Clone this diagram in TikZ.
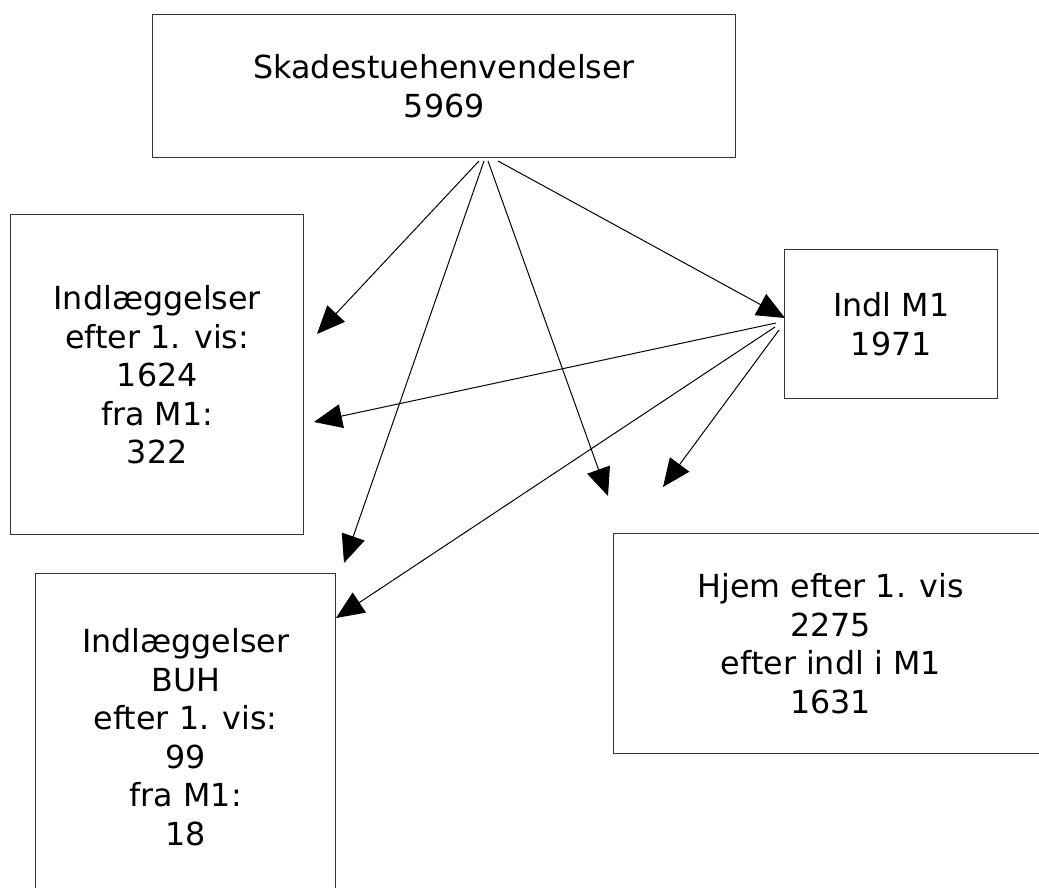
\documentclass[tikz,border=0pt]{standalone}
\usepackage{fontspec}
\setmainfont{DejaVu Sans}
\usetikzlibrary{arrows.meta}
\begin{document}
\begin{tikzpicture}[x=0.75pt,y=-0.75pt,
  box/.style={draw=black!80, line width=1.1pt, inner sep=0pt, align=center,
    font=\fontsize{23.8pt}{28.9pt}\selectfont, anchor=north west},
  conn/.style={line width=0.75pt, -{Triangle[length=21pt,width=18pt]}}]
\useasboundingbox (0,0) rectangle (1039,888);
\clip (0,0) rectangle (1039,888);
\node[box, minimum width=437.25pt, minimum height=107.25pt] (top) at (152,14) {Skadestuehenvendelser\\5969};
\node[box, minimum width=219.75pt, minimum height=240pt] (ind) at (10,214) {Indlæggelser\\efter 1. vis:\\1624\\fra M1:\\322};
\node[box, minimum width=159.75pt, minimum height=111.75pt] (m1) at (784,249) {Indl M1\\1971};
\node[box, minimum width=225pt, minimum height=245.25pt] (buh) at (35,573) {Indlæggelser\\BUH\\efter 1. vis:\\99\\fra M1:\\18};
\node[box, minimum width=325.5pt, minimum height=165pt] (hjem) at (613,533) {Hjem efter 1. vis\\2275\\efter indl i M1\\1631};
\coordinate (s1) at (479,161); \coordinate (e1) at (317,334);
\coordinate (s2) at (484,161); \coordinate (e2) at (344,563);
\coordinate (s3) at (488,161); \coordinate (e3) at (608,496);
\coordinate (s4) at (498,161); \coordinate (e4) at (785,318);
\coordinate (t1) at (776,323); \coordinate (f1) at (314,422);
\coordinate (t2) at (775,327); \coordinate (f2) at (336,618);
\coordinate (t3) at (779,330); \coordinate (f3) at (663,487);
\draw[conn] (s1) -- (e1);
\draw[conn] (s2) -- (e2);
\draw[conn] (s3) -- (e3);
\draw[conn] (s4) -- (e4);
\draw[conn] (t1) -- (f1);
\draw[conn] (t2) -- (f2);
\draw[conn] (t3) -- (f3);
\end{tikzpicture}
\end{document}
